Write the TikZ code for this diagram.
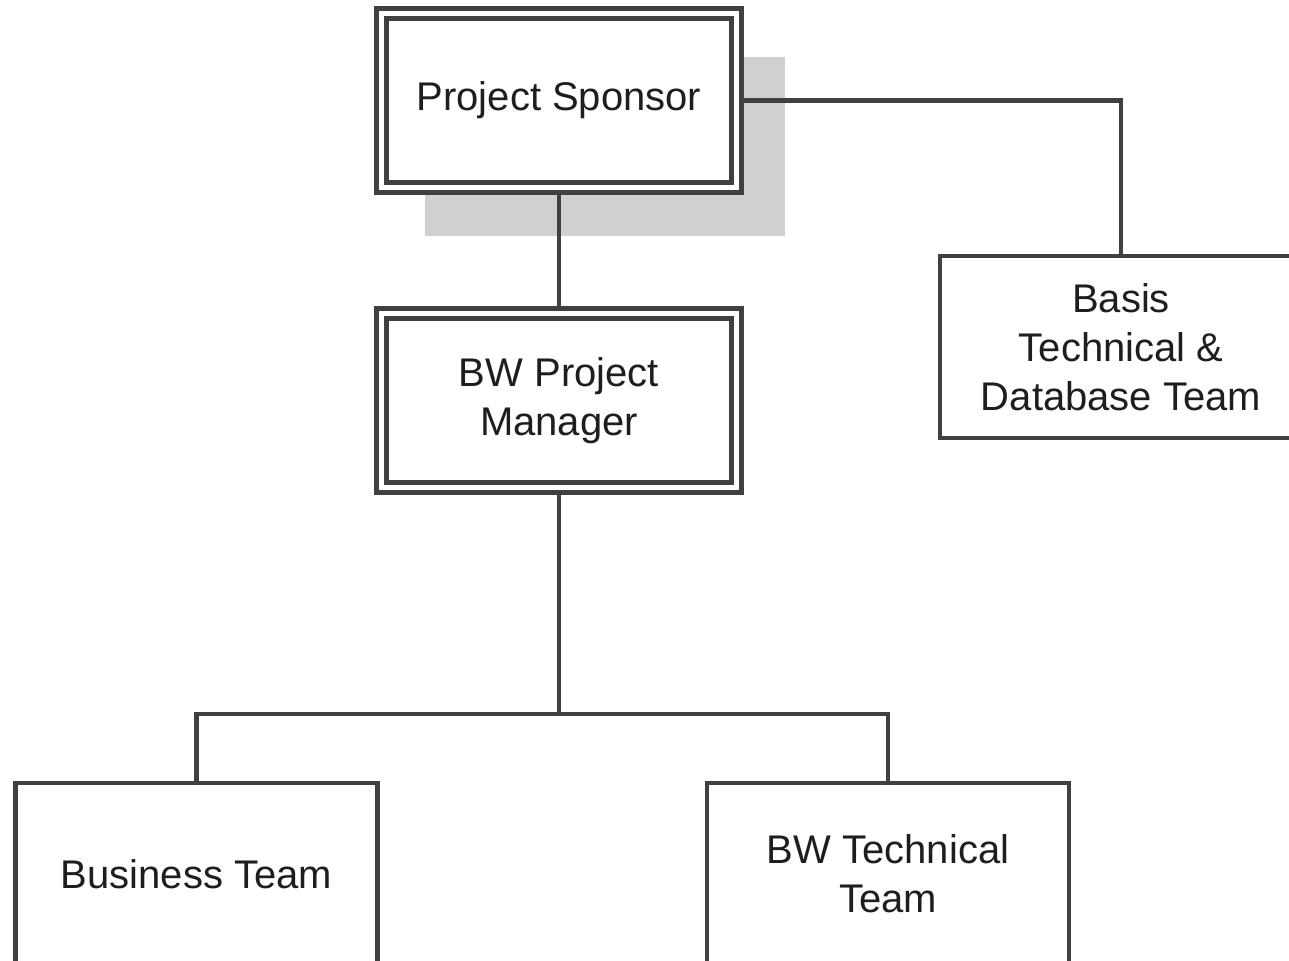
\documentclass[tikz,border=0pt]{standalone}
\usepackage{fontspec}
\setmainfont{Liberation Sans}
\usetikzlibrary{backgrounds}
\definecolor{linegray}{RGB}{64,64,64}
\definecolor{shadowgray}{RGB}{208,208,208}
\definecolor{textgray}{RGB}{30,30,30}
\tikzset{
	team/.style={draw=linegray, line width=2.4pt, fill=white, minimum width=181pt, minimum height=91pt, align=center, text=textgray, font=\fontsize{20}{24.5}\selectfont},
	lead/.style={team, double=white, line width=2.5pt, double distance=2.5pt, minimum width=177.5pt, minimum height=87pt},
	link/.style={draw=linegray, line width=2.4pt}
}
\begin{document}
\begin{tikzpicture}[x=0.5pt,y=-0.5pt]
	\clip (0,0) rectangle (1289,961);
	\node [lead] (sponsor) at (559,100.5) {Project Sponsor};
	\node [lead] (manager) at (559,401) {BW Project\\Manager};
	\node [team] (basis) at (1121,347) {Basis\\Technical \&\\Database Team};
	\node [team] (business) at (196.5,874) {Business Team};
	\node [team] (bwtech) at (888,874) {BW Technical\\Team};
	\begin{scope}[on background layer]
		\fill [shadowgray] ([shift={(46,46)}]sponsor.north west) rectangle ([shift={(46,46)}]sponsor.south east);
	\end{scope}
	\coordinate (split) at (559,714);
	\draw [link] (sponsor.east) -| (basis.north);
	\draw [link] (sponsor.south) -- (manager.north);
	\draw [link] (manager.south) -- (split);
	\foreach \t in {business,bwtech}
		\draw [link] (\t.north) |- (split);
\end{tikzpicture}
\end{document}
